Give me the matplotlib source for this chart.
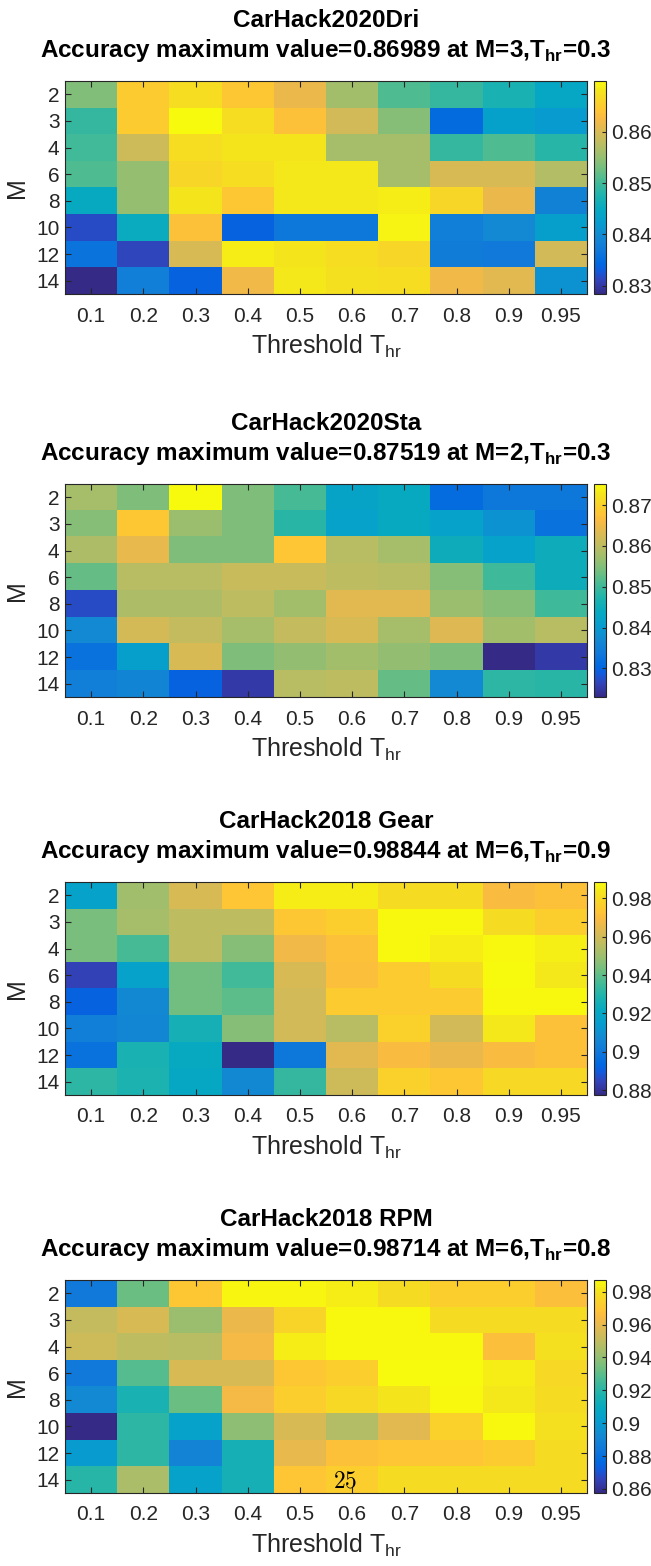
import numpy as np
import matplotlib
matplotlib.use("Agg")
import matplotlib.pyplot as plt
from matplotlib.colors import LinearSegmentedColormap
from matplotlib.ticker import FormatStrFormatter

plt.rcParams["font.family"] = ["Liberation Sans", "DejaVu Sans"]
plt.rcParams["mathtext.fontset"] = "custom"
plt.rcParams["mathtext.rm"] = "Liberation Sans"
plt.rcParams["mathtext.bf"] = "Liberation Sans:bold"

# ---- data -------------------------------------------------------------
M_VALUES = [2, 3, 4, 6, 8, 10, 12, 14]
THRESHOLDS = ["0.1", "0.2", "0.3", "0.4", "0.5", "0.6", "0.7", "0.8", "0.9", "0.95"]

dri_2020 = [
    [0.8537, 0.8649, 0.8670, 0.8645, 0.8616, 0.8558, 0.8508, 0.8492, 0.8471, 0.8442],
    [0.8492, 0.8649, 0.86989, 0.8670, 0.8637, 0.8595, 0.8541, 0.8350, 0.8433, 0.8421],
    [0.8500, 0.8591, 0.8670, 0.8678, 0.8678, 0.8562, 0.8562, 0.8492, 0.8508, 0.8483],
    [0.8508, 0.8550, 0.8662, 0.8670, 0.8682, 0.8682, 0.8562, 0.8599, 0.8599, 0.8570],
    [0.8450, 0.8550, 0.8678, 0.8645, 0.8682, 0.8682, 0.8687, 0.8662, 0.8616, 0.8384],
    [0.8317, 0.8454, 0.8637, 0.8338, 0.8367, 0.8367, 0.8691, 0.8379, 0.8396, 0.8429],
    [0.8363, 0.8313, 0.8599, 0.8687, 0.8678, 0.8670, 0.8662, 0.8375, 0.8371, 0.8595],
    [0.8284, 0.8379, 0.8338, 0.8620, 0.8682, 0.8674, 0.8670, 0.8620, 0.8608, 0.8409],
]

sta_2020 = [
    [0.8580, 0.8548, 0.87519, 0.8548, 0.8507, 0.8423, 0.8439, 0.8314, 0.8334, 0.8334],
    [0.8554, 0.8684, 0.8569, 0.8548, 0.8481, 0.8418, 0.8439, 0.8418, 0.8387, 0.8324],
    [0.8585, 0.8642, 0.8548, 0.8548, 0.8679, 0.8595, 0.8580, 0.8449, 0.8418, 0.8449],
    [0.8528, 0.8595, 0.8595, 0.8611, 0.8611, 0.8601, 0.8595, 0.8554, 0.8501, 0.8449],
    [0.8272, 0.8585, 0.8585, 0.8601, 0.8575, 0.8637, 0.8637, 0.8569, 0.8554, 0.8501],
    [0.8371, 0.8622, 0.8606, 0.8580, 0.8606, 0.8627, 0.8580, 0.8632, 0.8575, 0.8595],
    [0.8324, 0.8413, 0.8627, 0.8548, 0.8564, 0.8575, 0.8564, 0.8548, 0.8230, 0.8251],
    [0.8350, 0.8361, 0.8298, 0.8251, 0.8595, 0.8601, 0.8528, 0.8371, 0.8486, 0.8481],
]

gear_2018 = [
    [0.9174, 0.9507, 0.9618, 0.9729, 0.9851, 0.9851, 0.9806, 0.9806, 0.9695, 0.9718],
    [0.9440, 0.9518, 0.9562, 0.9562, 0.9740, 0.9762, 0.9878, 0.9878, 0.9806, 0.9762],
    [0.9440, 0.9363, 0.9562, 0.9463, 0.9673, 0.9718, 0.9878, 0.9851, 0.9878, 0.9856],
    [0.8842, 0.9174, 0.9429, 0.9352, 0.9618, 0.9707, 0.9751, 0.9806, 0.98844, 0.9840],
    [0.8919, 0.9074, 0.9429, 0.9396, 0.9607, 0.9751, 0.9751, 0.9751, 0.9878, 0.9878],
    [0.9030, 0.9063, 0.9263, 0.9463, 0.9607, 0.9551, 0.9773, 0.9607, 0.9840, 0.9718],
    [0.8975, 0.9274, 0.9219, 0.8775, 0.8997, 0.9640, 0.9695, 0.9662, 0.9695, 0.9718],
    [0.9318, 0.9285, 0.9208, 0.9074, 0.9330, 0.9596, 0.9773, 0.9740, 0.9795, 0.9795],
]

rpm_2018 = [
    [0.8847, 0.9327, 0.9703, 0.9858, 0.9858, 0.9832, 0.9780, 0.9728, 0.9728, 0.9664],
    [0.9508, 0.9560, 0.9417, 0.9612, 0.9754, 0.9865, 0.9865, 0.9780, 0.9780, 0.9780],
    [0.9534, 0.9495, 0.9482, 0.9638, 0.9832, 0.9865, 0.9865, 0.9865, 0.9664, 0.9793],
    [0.8847, 0.9288, 0.9560, 0.9560, 0.9703, 0.9728, 0.9868, 0.98714, 0.9832, 0.9767],
    [0.8925, 0.9158, 0.9327, 0.9638, 0.9728, 0.9767, 0.9806, 0.9865, 0.9819, 0.9780],
    [0.8575, 0.9210, 0.9042, 0.9391, 0.9560, 0.9469, 0.9586, 0.9741, 0.9865, 0.9793],
    [0.9003, 0.9210, 0.8899, 0.9145, 0.9599, 0.9677, 0.9690, 0.9690, 0.9715, 0.9780],
    [0.9197, 0.9456, 0.9042, 0.9145, 0.9690, 0.9728, 0.9780, 0.9780, 0.9780, 0.9780],
]

PANELS = [
    ("CarHack2020Dri", "0.86989", "3", "0.3", dri_2020, [0.83, 0.84, 0.85, 0.86]),
    ("CarHack2020Sta", "0.87519", "2", "0.3", sta_2020, [0.83, 0.84, 0.85, 0.86, 0.87]),
    ("CarHack2018 Gear", "0.98844", "6", "0.9", gear_2018,
     [0.88, 0.90, 0.92, 0.94, 0.96, 0.98]),
    ("CarHack2018 RPM", "0.98714", "6", "0.8", rpm_2018,
     [0.86, 0.88, 0.90, 0.92, 0.94, 0.96, 0.98]),
]

# MATLAB parula, sampled
PARULA = [
    (0.2081, 0.1663, 0.5292), (0.1959, 0.2645, 0.7279), (0.0591, 0.3598, 0.8683),
    (0.0060, 0.4086, 0.8828), (0.0629, 0.4737, 0.8554), (0.0749, 0.5375, 0.8263),
    (0.0265, 0.6137, 0.8135), (0.0267, 0.6642, 0.7607), (0.1133, 0.7015, 0.6859),
    (0.2586, 0.7317, 0.5954), (0.4420, 0.7481, 0.5033), (0.6099, 0.7473, 0.4337),
    (0.7525, 0.7384, 0.3768), (0.8824, 0.7274, 0.3217), (0.9739, 0.7314, 0.2666),
    (0.9990, 0.7653, 0.2164), (0.9789, 0.8271, 0.1633), (0.9589, 0.8949, 0.1132),
    (0.9763, 0.9831, 0.0538),
]
PARULA_POS = [0, 4, 7, 9, 13, 17, 21, 25, 29, 33, 37, 41, 45, 49, 52, 54, 57, 60, 63]
cmap = LinearSegmentedColormap.from_list(
    "parula", [(p / 63, c) for p, c in zip(PARULA_POS, PARULA)], N=256)

# ---- figure -----------------------------------------------------------
W, H = 651, 1566
fig = plt.figure(figsize=(W / 100, H / 100), dpi=100)
EDGE = "#262626"
tops = [81, 484, 882, 1280]
ax_h = 213

for (name, best, m_best, t_best, data, cticks), top in zip(PANELS, tops):
    bottom = 1 - (top + ax_h) / H
    ax = fig.add_axes([65 / W, bottom, 522 / W, ax_h / H])
    im = ax.imshow(np.array(data), cmap=cmap, aspect="auto",
                   interpolation="nearest")
    ax.set_xticks(range(len(THRESHOLDS)))
    ax.set_xticklabels(THRESHOLDS)
    ax.set_yticks(range(len(M_VALUES)))
    ax.set_yticklabels([str(m) for m in M_VALUES])
    ax.tick_params(direction="in", length=4, width=0.8, top=True, right=True,
                   labelsize=15, colors=EDGE)
    ax.tick_params(axis="x", pad=9)
    ax.tick_params(axis="y", pad=4)
    for s in ax.spines.values():
        s.set_color(EDGE)
        s.set_linewidth(0.8)
    ax.set_xlabel(r"Threshold T$_{\rm hr}$", fontsize=18, color=EDGE, labelpad=5)
    ax.set_ylabel("M", fontsize=18, color=EDGE, labelpad=5)

    ax.annotate(name, xy=(0.5, 1), xycoords="axes fraction",
                xytext=(0, 39), textcoords="offset points",
                ha="center", va="baseline", fontsize=17.5, fontweight="bold")
    ax.annotate("Accuracy maximum value=%s at M=%s,T$_{\\mathbf{hr}}$=%s"
                % (best, m_best, t_best),
                xy=(0.5, 1), xycoords="axes fraction",
                xytext=(0, 17), textcoords="offset points",
                ha="center", va="baseline", fontsize=17.5, fontweight="bold")

    cax = fig.add_axes([594 / W, bottom, 12 / W, ax_h / H])
    cb = fig.colorbar(im, cax=cax)
    cb.set_ticks(cticks)
    cb.ax.yaxis.set_major_formatter(FormatStrFormatter("%g"))
    cb.ax.tick_params(direction="in", length=3, width=0.8, labelsize=15,
                      colors=EDGE, pad=4)
    cb.outline.set_edgecolor(EDGE)
    cb.outline.set_linewidth(0.8)

# page number left over from the source document
fig.text(345 / W, 1 - 1482 / H, r"$25$", ha="center", va="center",
         fontsize=17, math_fontfamily="cm")

fig.savefig("out.png", dpi=100)
